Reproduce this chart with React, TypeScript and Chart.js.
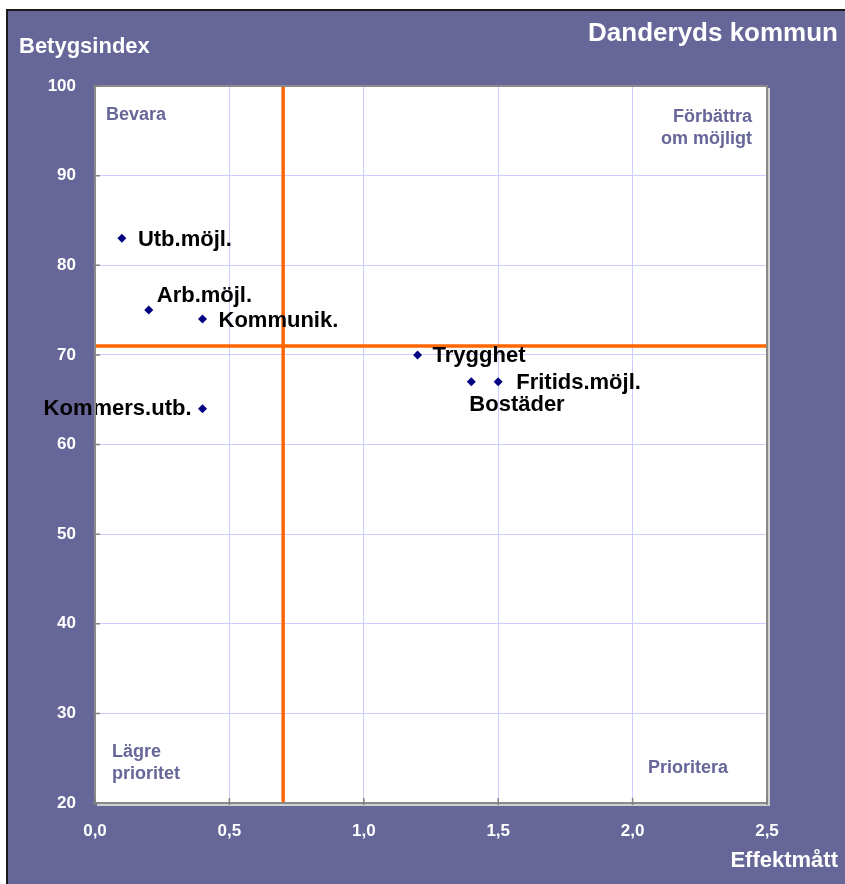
import React, { useEffect, useRef } from "react";
import { Chart, registerables } from "chart.js";

Chart.register(...registerables);

const categories = ["Utb.möjl.", "Arb.möjl.", "Kommunik.", "Trygghet", "Fritids.möjl.", "Bostäder", "Kommers.utb."];
const effektmatt = [0.1, 0.2, 0.4, 1.2, 1.5, 1.4, 0.4];
const betygsindex = [83, 75, 74, 70, 67, 67, 64];
const xTickValues = [0, 0.5, 1.0, 1.5, 2.0, 2.5];
const yTickValues = [20, 30, 40, 50, 60, 70, 80, 90, 100];
const thresholdX = 0.7;
const thresholdY = 71;

const FONT = "'Liberation Sans', Arial, sans-serif";
const PURPLE = "#666699";

// label placement (style only): dx, dy, align
const LABEL_PLACEMENT: [number, number, CanvasTextAlign][] = [
  [16, 2, "left"],
  [8, -14, "left"],
  [16, 2, "left"],
  [15, 1, "left"],
  [18, 1, "left"],
  [-2, 23, "left"],
  [-11, 0, "right"],
];

const decorPlugin = {
  id: "decor",
  beforeDraw(chart: any) {
    const { ctx, width, height, chartArea: a } = chart;
    ctx.save();
    ctx.fillStyle = "#ffffff";
    ctx.fillRect(0, 0, width, height);
    ctx.fillStyle = PURPLE;
    ctx.fillRect(6, 9, width - 6, height - 9);
    ctx.strokeStyle = "#1a1a1a";
    ctx.lineWidth = 2;
    ctx.beginPath();
    ctx.moveTo(7, height);
    ctx.lineTo(7, 10);
    ctx.lineTo(width, 10);
    ctx.stroke();
    ctx.fillStyle = "#ffffff";
    ctx.fillRect(a.left, a.top, a.right - a.left, a.bottom - a.top);
    ctx.restore();
  },
  beforeDatasetsDraw(chart: any) {
    const { ctx, chartArea: a, scales } = chart;
    const px = scales.x.getPixelForValue(thresholdX);
    const py = scales.y.getPixelForValue(thresholdY);
    ctx.save();
    ctx.strokeStyle = "#ff6600";
    ctx.lineWidth = 3.5;
    ctx.beginPath();
    ctx.moveTo(px, a.top);
    ctx.lineTo(px, a.bottom);
    ctx.moveTo(a.left, py);
    ctx.lineTo(a.right, py);
    ctx.stroke();
    ctx.restore();
  },
  afterDatasetsDraw(chart: any) {
    const { ctx } = chart;
    const meta = chart.getDatasetMeta(0);
    ctx.save();
    ctx.font = `bold 22px ${FONT}`;
    ctx.fillStyle = "#000000";
    ctx.textBaseline = "middle";
    meta.data.forEach((pt: any, i: number) => {
      const [dx, dy, align] = LABEL_PLACEMENT[i];
      ctx.textAlign = align;
      ctx.fillText(categories[i], pt.x + dx, pt.y + dy);
    });
    ctx.restore();
  },
  afterDraw(chart: any) {
    const { ctx, width, chartArea: a, scales } = chart;
    ctx.save();
    // plot border with shadow
    ctx.strokeStyle = "#d0d0d0";
    ctx.lineWidth = 2;
    ctx.beginPath();
    ctx.moveTo(a.right + 2, a.top + 2);
    ctx.lineTo(a.right + 2, a.bottom + 2);
    ctx.lineTo(a.left + 2, a.bottom + 2);
    ctx.stroke();
    ctx.strokeStyle = "#8a8a8a";
    ctx.lineWidth = 2;
    ctx.strokeRect(a.left, a.top, a.right - a.left, a.bottom - a.top);
    // tick marks
    ctx.lineWidth = 1.5;
    ctx.strokeStyle = "#808080";
    ctx.beginPath();
    yTickValues.forEach((v) => {
      const y = scales.y.getPixelForValue(v);
      ctx.moveTo(a.left - 2, y);
      ctx.lineTo(a.left + 5, y);
    });
    xTickValues.forEach((v) => {
      const x = scales.x.getPixelForValue(v);
      ctx.moveTo(x, a.bottom + 2);
      ctx.lineTo(x, a.bottom - 5);
    });
    ctx.stroke();

    // titles
    ctx.fillStyle = "#ffffff";
    ctx.textBaseline = "alphabetic";
    ctx.font = `bold 26px ${FONT}`;
    ctx.textAlign = "right";
    ctx.fillText("Danderyds kommun", width - 7, 41);
    ctx.font = `bold 22px ${FONT}`;
    ctx.textAlign = "left";
    ctx.fillText("Betygsindex", 19, 53);
    ctx.textAlign = "right";
    ctx.fillText("Effektmått", width - 7, 867);

    // quadrant labels
    ctx.fillStyle = PURPLE;
    ctx.font = `bold 18px ${FONT}`;
    ctx.textAlign = "left";
    ctx.fillText("Bevara", a.left + 11, 120);
    ctx.fillText("Lägre", a.left + 17, 757);
    ctx.fillText("prioritet", a.left + 17, 779);
    ctx.textAlign = "right";
    ctx.fillText("Förbättra", a.right - 15, 122);
    ctx.fillText("om möjligt", a.right - 15, 144);
    ctx.fillText("Prioritera", a.right - 39, 773);
    ctx.restore();
  },
};

export default function App() {
  const ref = useRef<HTMLCanvasElement>(null);
  useEffect(() => {
    document.body.style.margin = "0";
    const chart = new Chart(ref.current!, {
      type: "scatter",
      data: {
        datasets: [
          {
            label: "Betygsindex",
            data: effektmatt.map((x, i) => ({ x, y: betygsindex[i] })),
            pointStyle: "rectRot",
            pointRadius: 4.5,
            pointBackgroundColor: "#000080",
            pointBorderColor: "#000080",
            pointBorderWidth: 0,
          },
        ],
      },
      options: {
        animation: false,
        responsive: false,
        events: [],
        layout: { padding: { left: 0, top: 86, right: 78, bottom: 41 } },
        plugins: { legend: { display: false }, tooltip: { enabled: false } },
        scales: {
          x: {
            type: "linear",
            min: 0,
            max: 2.5,
            afterFit: (s: any) => { s.height = 40; },
            afterBuildTicks: (s: any) => { s.ticks = xTickValues.map((v) => ({ value: v })); },
            grid: { color: "#ccccff", lineWidth: 1, drawTicks: false },
            border: { display: false },
            ticks: {
              color: "#ffffff",
              padding: 18,
              font: { family: FONT, size: 17, weight: "bold" },
              callback: (v: any) => Number(v).toFixed(1).replace(".", ","),
            },
          },
          y: {
            type: "linear",
            min: 20,
            max: 100,
            afterFit: (s: any) => { s.width = 95; },
            afterBuildTicks: (s: any) => { s.ticks = yTickValues.map((v) => ({ value: v })); },
            grid: { color: "#ccccff", lineWidth: 1, drawTicks: false },
            border: { display: false },
            ticks: {
              color: "#ffffff",
              padding: 19,
              font: { family: FONT, size: 17, weight: "bold" },
              callback: (v: any) => String(v),
            },
          },
        },
      },
      plugins: [decorPlugin],
    });
    return () => chart.destroy();
  }, []);
  return <canvas ref={ref} width={845} height={884} style={{ display: "block" }} />;
}
